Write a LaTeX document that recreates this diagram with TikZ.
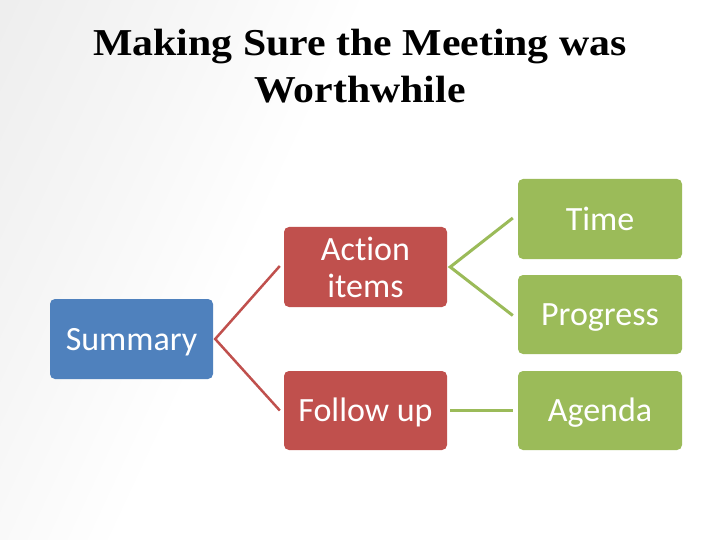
\documentclass[tikz,border=0pt]{standalone}
\usepackage{fontspec}
\setmainfont{Carlito}[Ligatures={NoCommon,NoRare}]
\newfontfamily\titlefont{Liberation Serif}
\definecolor{boxblue}{HTML}{4F81BD}
\definecolor{boxred}{HTML}{C0504D}
\definecolor{boxgreen}{HTML}{9BBB59}
\pgfdeclarehorizontalshading{bgshade}{100bp}{color(0bp)=(black!11); color(28bp)=(black!4); color(42bp)=(white); color(100bp)=(white)}
\begin{document}
\begin{tikzpicture}[x=1pt,y=-1pt,
  box/.style={rounded corners=5pt, minimum width=163pt, minimum height=80pt,
    inner sep=0pt, text=white, align=center,
    font=\fontsize{34}{37}\selectfont},
  oneline/.style={text height=22pt, text depth=0pt},
  titletext/.style={anchor=base, inner sep=0pt,
    font=\titlefont\bfseries\fontsize{38}{44}\selectfont},
  redline/.style={draw=boxred, line width=2.5pt},
  greenline/.style={draw=boxgreen, line width=3pt}]
\useasboundingbox (0,0) rectangle (720,540);
\shade[shading=bgshade, shading angle=-25] (0,0) rectangle (720,540);
\node[titletext] (t1) at (360,56) {\scalebox{1.1}[1]{Making Sure the Meeting was}};
\node[titletext] (t2) at (360,103) {\scalebox{1.1}[1]{Worthwhile}};
\node[box, oneline, fill=boxblue] (sum) at (131.5,339) {Summary};
\node[box, fill=boxred] (act) at (365.5,267) {Action\\items};
\node[box, oneline, fill=boxred, minimum height=79pt] (fol) at (365.5,410.5) {Follow up};
\node[box, oneline, fill=boxgreen, minimum width=164pt] (tim) at (600,219) {Time};
\node[box, oneline, fill=boxgreen, minimum width=164pt, minimum height=79pt] (pro) at (600,314.5) {Progress};
\node[box, oneline, fill=boxgreen, minimum width=164pt, minimum height=79pt] (age) at (600,410.5) {Agenda};
\coordinate (sv) at ([xshift=2pt]sum.east);
\coordinate (av) at ([xshift=3pt]act.east);
\draw[redline] ([xshift=-4pt,yshift=1pt]act.west) -- (sv) -- ([xshift=-4pt]fol.west);
\draw[greenline] ([xshift=-5pt,yshift=1pt]tim.west) -- (av) -- ([xshift=-5pt,yshift=-1pt]pro.west);
\draw[greenline] ([xshift=3pt]fol.east) -- ([xshift=-5pt]age.west);
\end{tikzpicture}
\end{document}
